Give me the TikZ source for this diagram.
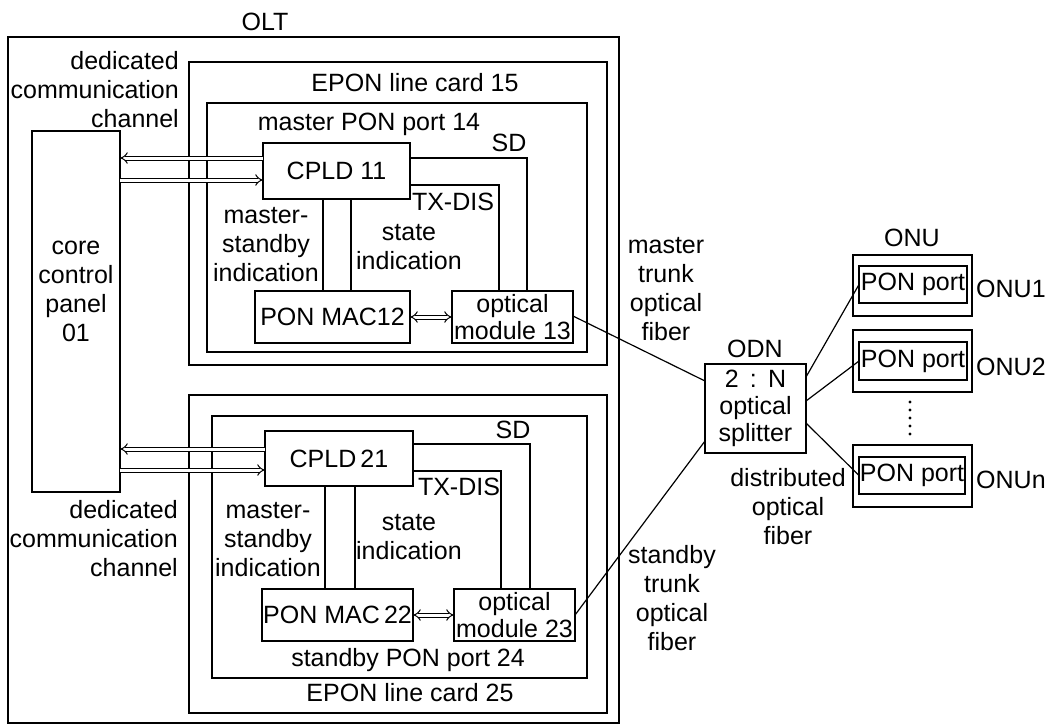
\documentclass[tikz,border=0pt]{standalone}
\usepackage{fontspec}
\setmainfont{Liberation Sans}
\usetikzlibrary{arrows.meta}
\begin{document}
\begin{tikzpicture}[x=1pt,y=-1pt,
  every node/.style={font=\fontsize{25}{29}\selectfont},
  box/.style={draw, line width=1.2pt, inner sep=0pt, outer sep=0pt, align=center},
  frame/.style={draw, line width=1.6pt, inner sep=0pt, outer sep=0pt},
  txt/.style={inner sep=0pt, align=center},
  rtxt/.style={inner sep=0pt, align=right, anchor=east},
  wire/.style={line width=1.2pt},
  dbl/.style={double, double distance=3pt, line width=1pt, -{Implies}},
  dblb/.style={double, double distance=3pt, line width=1pt, {Implies}-{Implies}}]
\useasboundingbox (0,0) rectangle (1048,726);
% OLT
\node[txt] (olt) at (265,22) {OLT};
\node[frame, minimum width=611, minimum height=686] (oltbox) at (313.5,380) {};
\node[box, minimum width=88, minimum height=361] (core) at (76,311.5) {};
\node[txt] (coretxt) at (76,291) {core\\control\\panel\\01};
\node[rtxt] (ded1) at (179,90) {dedicated\\communication\\channel};
\node[rtxt] (ded2) at (178,539) {dedicated\\communication\\channel};
% master card
\node[frame, minimum width=418, minimum height=303] (card15) at (398,213.5) {};
\node[txt] (card15t) at (415,83) {EPON line card 15};
\node[box, minimum width=380, minimum height=249] (port14) at (397,227.5) {};
\node[txt] (port14t) at (369,124) {master PON port 14};
\node[box, minimum width=147, minimum height=56] (cpld11) at (336.5,171) {CPLD 11};
\node[box, minimum width=155, minimum height=52] (mac12) at (332.5,317) {PON MAC12};
\node[box, minimum width=121, minimum height=52, font=\fontsize{25}{27}\selectfont] (opt13) at (512.5,317) {optical\\module 13};
\node[txt] (sd1) at (509,143) {SD};
\node[txt] (tx1) at (453,202) {TX-DIS};
\node[txt] (ms1) at (266,245) {master-\\standby\\indication};
\node[txt] (st1) at (409,247) {state\\indication};
\draw[dbl] (cpld11.west |- 0,158) -- (core.east |- 0,158);
\draw[dbl] (core.east |- 0,180) -- (cpld11.west |- 0,180);
\draw[wire] (cpld11.east |- 0,158) -| (opt13.north -| 527,0);
\draw[wire] (cpld11.east |- 0,185) -| (opt13.north -| 499,0);
\draw[wire] (cpld11.south -| 323,0) -- (mac12.north -| 323,0);
\draw[wire] (cpld11.south -| 351,0) -- (mac12.north -| 351,0);
\draw[dblb] (mac12.east) -- (opt13.west);
% standby card
\node[frame, minimum width=418, minimum height=318] (card25) at (398,554) {};
\node[txt] (card25t) at (410,693) {EPON line card 25};
\node[box, minimum width=375, minimum height=262] (port24) at (399.5,547) {};
\node[txt] (port24t) at (408,660) {standby PON port 24};
\node[box, minimum width=148, minimum height=55] (cpld21) at (339,458.5) {CPLD\,21};
\node[box, minimum width=151, minimum height=52] (mac22) at (337.5,615) {PON MAC\,22};
\node[box, minimum width=121, minimum height=52, font=\fontsize{25}{27}\selectfont] (opt23) at (514.5,615) {optical\\module 23};
\node[txt] (sd2) at (513,430) {SD};
\node[txt] (tx2) at (459,487) {TX-DIS};
\node[txt] (ms2) at (268,540) {master-\\standby\\indication};
\node[txt] (st2) at (409,537) {state\\indication};
\draw[dbl] (cpld21.west |- 0,449) -- (core.east |- 0,449);
\draw[dbl] (core.east |- 0,470) -- (cpld21.west |- 0,470);
\draw[wire] (cpld21.east |- 0,444) -| (opt23.north -| 530,0);
\draw[wire] (cpld21.east |- 0,471) -| (opt23.north -| 501,0);
\draw[wire] (cpld21.south -| 325,0) -- (mac22.north -| 325,0);
\draw[wire] (cpld21.south -| 355,0) -- (mac22.north -| 355,0);
\draw[dblb] (mac22.east) -- (opt23.west);
% ODN
\node[txt] (odn) at (755,349) {ODN};
\node[box, minimum width=101, minimum height=89, font=\fontsize{25}{27}\selectfont] (split) at (755.5,408.5) {2\;\,:\;\,N\\optical\\splitter};
\node[txt] (mtf) at (666,289) {master\\trunk\\optical\\fiber};
\node[txt] (stf) at (672,598) {standby\\trunk\\optical\\fiber};
\node[txt] (dof) at (788,507) {distributed\\optical\\fiber};
\draw[wire] (opt13.east |- 0,316) -- (split.west |- 0,381);
\draw[wire] (opt23.east |- 0,615) -- (split.west |- 0,441);
% ONUs
\node[txt] (onu) at (912,238) {ONU};
\node[box, minimum width=119, minimum height=61] (onu1) at (912.5,285.5) {};
\node[box, minimum width=119, minimum height=62] (onu2) at (912.5,361) {};
\node[box, minimum width=119, minimum height=62] (onun) at (912.5,476) {};
\node[box, minimum width=108, minimum height=37] (p1) at (913,284.5) {PON port};
\node[box, minimum width=108, minimum height=38] (p2) at (913,361) {PON port};
\node[box, minimum width=106, minimum height=37] (pn) at (912,475.5) {PON port};
\node[txt, anchor=west] (l1) at (976,289) {ONU1};
\node[txt, anchor=west] (l2) at (976,367) {ONU2};
\node[txt, anchor=west] (ln) at (976,480) {ONUn};
\draw[wire] (split.east |- 0,377) -- (p1.west);
\draw[wire] (split.east |- 0,401) -- (p2.west);
\draw[wire] (split.east |- 0,423) -- (pn.west);
\foreach \yy in {402,410,418,426,434} \fill (910,\yy) circle (1.7);
\end{tikzpicture}
\end{document}
